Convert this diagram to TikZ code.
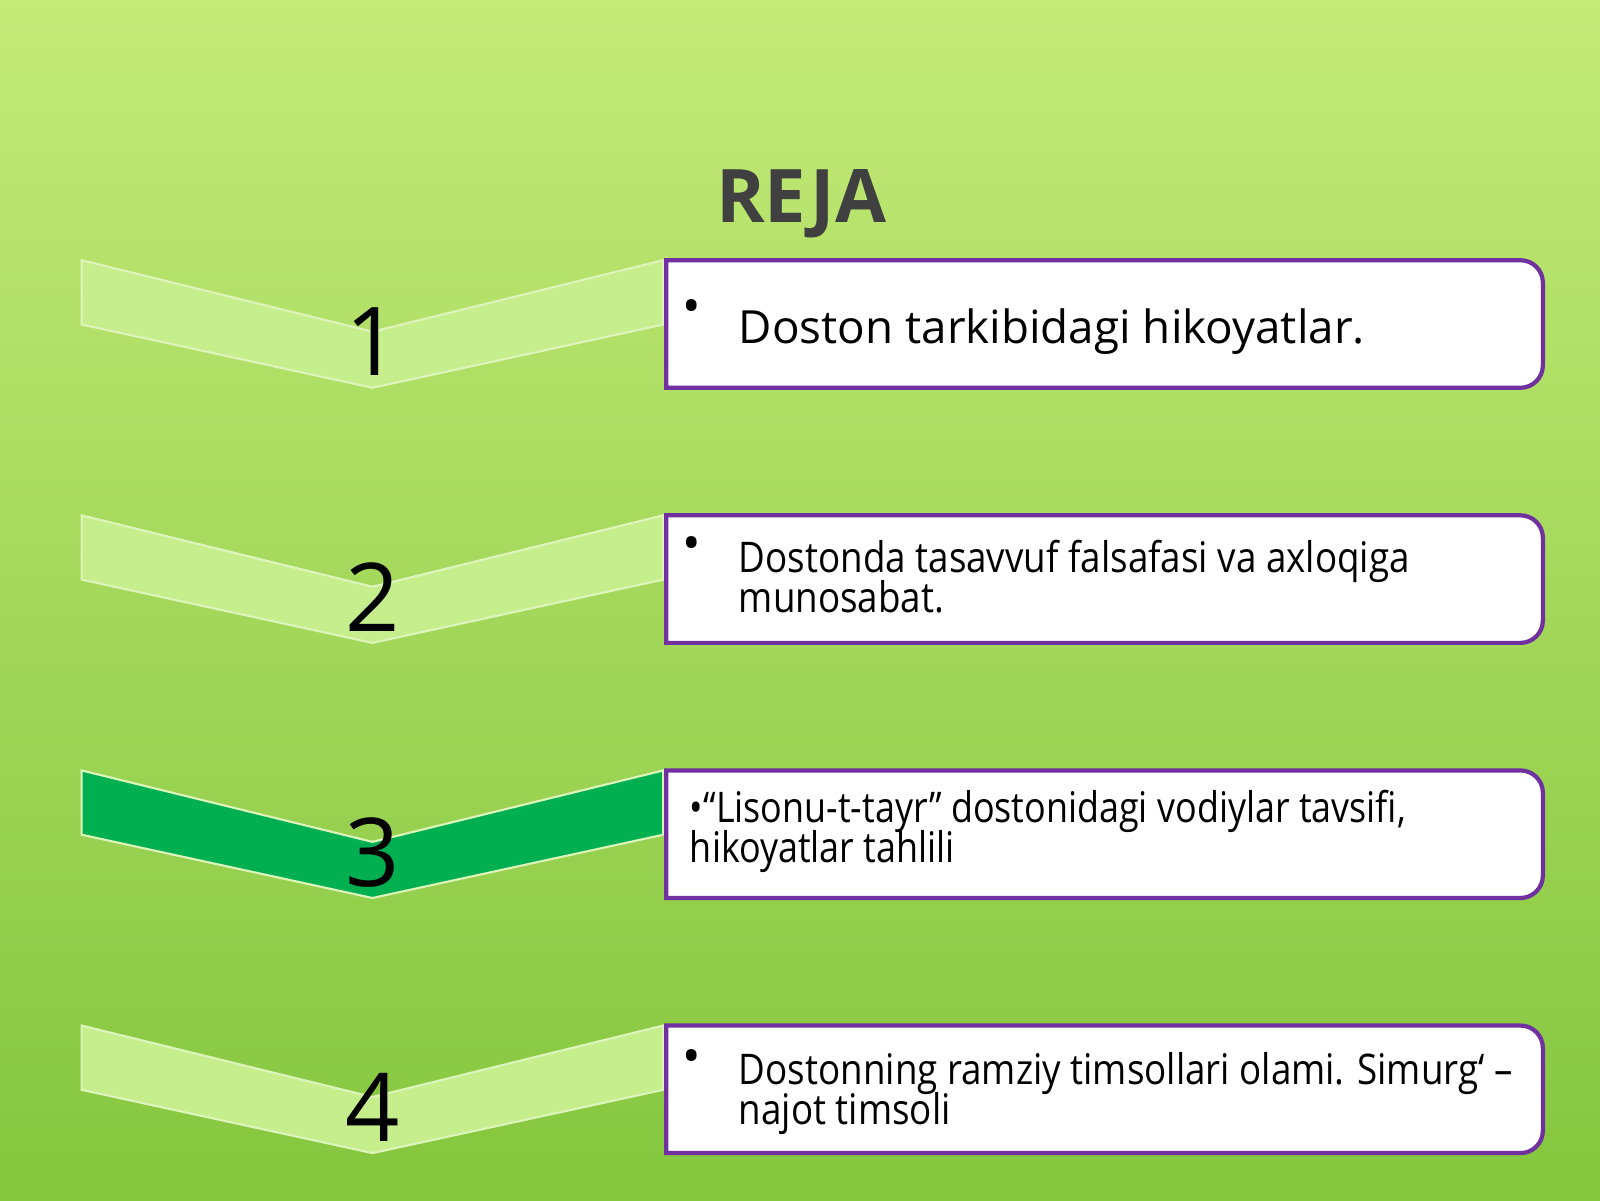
\documentclass[tikz,border=0pt]{standalone}
\usepackage{fontspec}
\setmainfont{Open Sans}
\definecolor{chev}{HTML}{C6EE8C}
\definecolor{chevd}{HTML}{00B050}
\definecolor{purp}{HTML}{7030A0}
\definecolor{bgtop}{HTML}{C4EA78}
\definecolor{bgbot}{HTML}{84C63E}
\begin{document}
\begin{tikzpicture}[x=0.0102cm,y=-0.0102cm,
  num/.style={font=\fontsize{27}{27}\selectfont, text=black},
  box/.style={draw=purp, line width=1.2pt, fill=white},
  txt/.style={font=\fontsize{13}{13}\selectfont, anchor=west, text=black},
  ctxt/.style={font=\fontsize{12}{10.5}\selectfont, anchor=west, text=black, align=left}]
\useasboundingbox (0,0) rectangle (1568,1176);
\shade[top color=bgtop, bottom color=bgbot] (0,0) rectangle (1568,1176);
\node[font=\bfseries\fontsize{21}{21}\selectfont, text=black!75] (title) at (785,200) {REJA};
\foreach \i/\c in {0/chev,1/chev,2/chevd,3/chev}{
  \pgfmathsetmacro\o{\i*250}
  \fill[\c, draw=chev!60!white, line width=0.6pt] (80,255+\o) -- (365,325+\o) -- (650,255+\o) -- (650,318+\o) -- (365,380+\o) -- (80,318+\o) -- cycle;
}
\node[num] (n1) at (365,335) {1};
\node[num] (n2) at (365,585) {2};
\node[num] (n3) at (365,835) {3};
\node[num] (n4) at (365,1085) {4};
\foreach \i in {0,1,2,3}{
  \pgfmathsetmacro\o{\i*250}
  \draw[box] (653,255+\o) -- (1490,255+\o) to[out=0,in=90] (1512,277+\o) -- (1512,358+\o) to[out=-90,in=0] (1490,380+\o) -- (653,380+\o) -- cycle;
}
\node[font=\fontsize{14}{14}\selectfont] (b1) at (678,305) {•};
\node[txt] (t1) at (712,325) {Doston tarkibidagi hikoyatlar.};
\node[font=\fontsize{14}{14}\selectfont] (b2) at (678,538) {•};
\node[ctxt] (t2) at (712,570) {\scalebox{0.87}[1]{\begin{tabular}{@{}l@{}}Dostonda tasavvuf falsafasi va axloqiga\\[-1pt] munosabat.\end{tabular}}};
\node[ctxt] (t3) at (664,815) {\scalebox{0.85}[1]{\begin{tabular}{@{}l@{}}•“Lisonu-t-tayr” dostonidagi vodiylar tavsifi,\\[-1pt] hikoyatlar tahlili\end{tabular}}};
\node[font=\fontsize{14}{14}\selectfont] (b4) at (678,1040) {•};
\node[ctxt] (t4) at (712,1072) {\scalebox{0.87}[1]{\begin{tabular}{@{}l@{}}Dostonning ramziy timsollari olami. Simurg‘ –\\[-1pt] najot timsoli\end{tabular}}};
\end{tikzpicture}
\end{document}
